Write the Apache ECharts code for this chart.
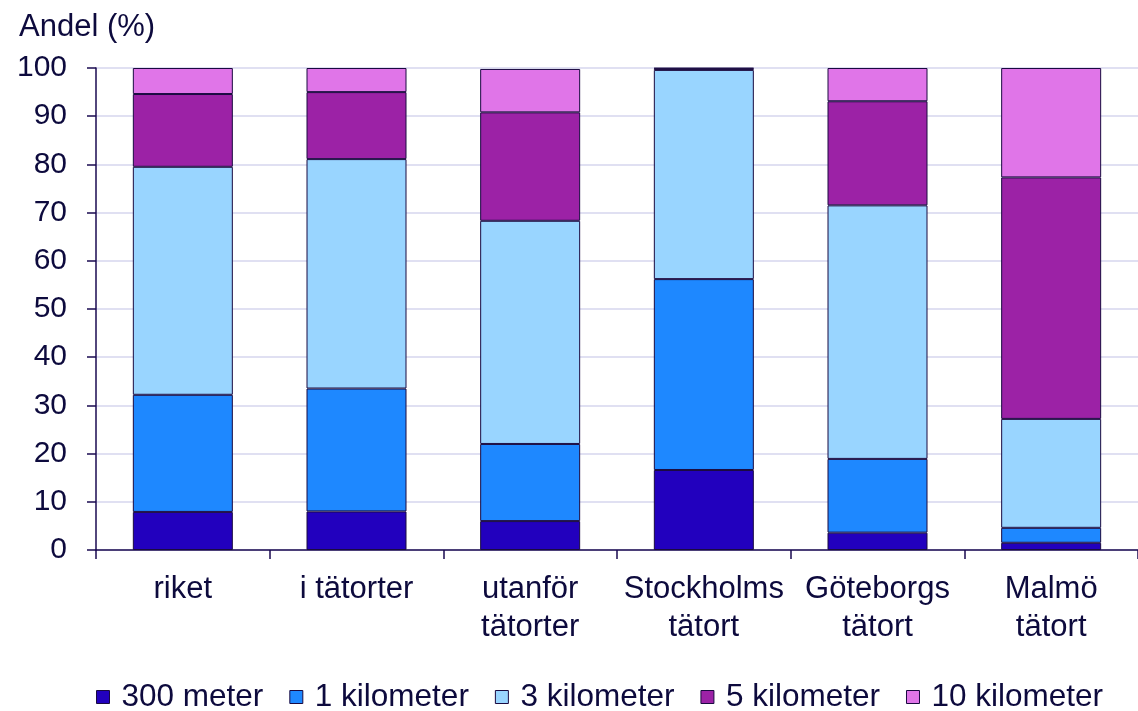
<!DOCTYPE html>
<html>
<head>
<meta charset="utf-8">
<script src="https://cdn.jsdelivr.net/npm/echarts@6/dist/echarts.min.js"></script>
<style>
html,body{margin:0;padding:0;background:#fff;}
#chart{width:1138px;height:711px;}
</style>
</head>
<body>
<div id="chart"></div>
<script>
const categories = ["riket", "i tätorter", "utanför\ntätorter", "Stockholms\ntätort", "Göteborgs\ntätort", "Malmö\ntätort"];
const seriesNames = ["300 meter", "1 kilometer", "3 kilometer", "5 kilometer", "10 kilometer"];
const m300 = [7.9, 8.0, 6.0, 16.6, 3.6, 1.5];
const km1 = [24.3, 25.5, 16.0, 39.6, 15.3, 3.1];
const km3 = [47.3, 47.6, 46.3, 43.4, 52.6, 22.6];
const km5 = [15.1, 13.9, 22.5, 0.3, 21.6, 50.1];
const km10 = [5.4, 5.0, 9.0, 0.1, 6.9, 22.7];
const yTicks = [0, 10, 20, 30, 40, 50, 60, 70, 80, 90, 100];

const colors = ["#2200BE", "#1E88FF", "#99D5FF", "#9C22A6", "#E075E8"];
const textColor = "#0D0A3D";
const font = "'Liberation Sans', Arial, sans-serif";
const values = [m300, km1, km3, km5, km10];

const chart = echarts.init(document.getElementById('chart'), null, {renderer: 'canvas'});
chart.setOption({
  animation: false,
  backgroundColor: '#fff',
  textStyle: {fontFamily: font, color: textColor},
  title: {
    text: 'Andel (%)', left: 14, top: 7,
    textStyle: {fontFamily: font, fontSize: 31, fontWeight: 'normal', color: textColor}
  },
  grid: {left: 96, top: 68, width: 1050, height: 482},
  legend: {
    top: 676, left: 91,
    itemWidth: 13, itemHeight: 13, itemGap: 26,
    icon: 'rect',
    itemStyle: {borderColor: '#1A0A40', borderWidth: 1},
    textStyle: {fontFamily: font, fontSize: 31.5, color: textColor, padding: [0, 0, 0, 7]},
    data: seriesNames
  },
  xAxis: {
    type: 'category', data: categories,
    axisLine: {lineStyle: {color: '#1A0A50', width: 1.5}},
    axisTick: {show: true, length: 9, lineStyle: {color: '#1A0A50', width: 1.5}},
    axisLabel: {fontFamily: font, fontSize: 31, color: textColor, lineHeight: 38, margin: 20, interval: 0}
  },
  yAxis: {
    type: 'value', min: yTicks[0], max: yTicks[yTicks.length - 1], interval: 10,
    axisLine: {show: true, lineStyle: {color: '#1A0A50', width: 1.5}},
    axisTick: {show: true, length: 9, lineStyle: {color: '#1A0A50', width: 1.5}},
    axisLabel: {fontFamily: font, fontSize: 30, color: textColor, margin: 29},
    splitLine: {show: true, lineStyle: {color: '#D6D6EE', width: 1.5}}
  },
  series: seriesNames.map((name, i) => ({
    name: name, type: 'bar', stack: 'total', data: values[i],
    barWidth: 100,
    itemStyle: {color: colors[i], borderColor: '#1A0A40', borderWidth: 1}
  }))
});
</script>
</body>
</html>
